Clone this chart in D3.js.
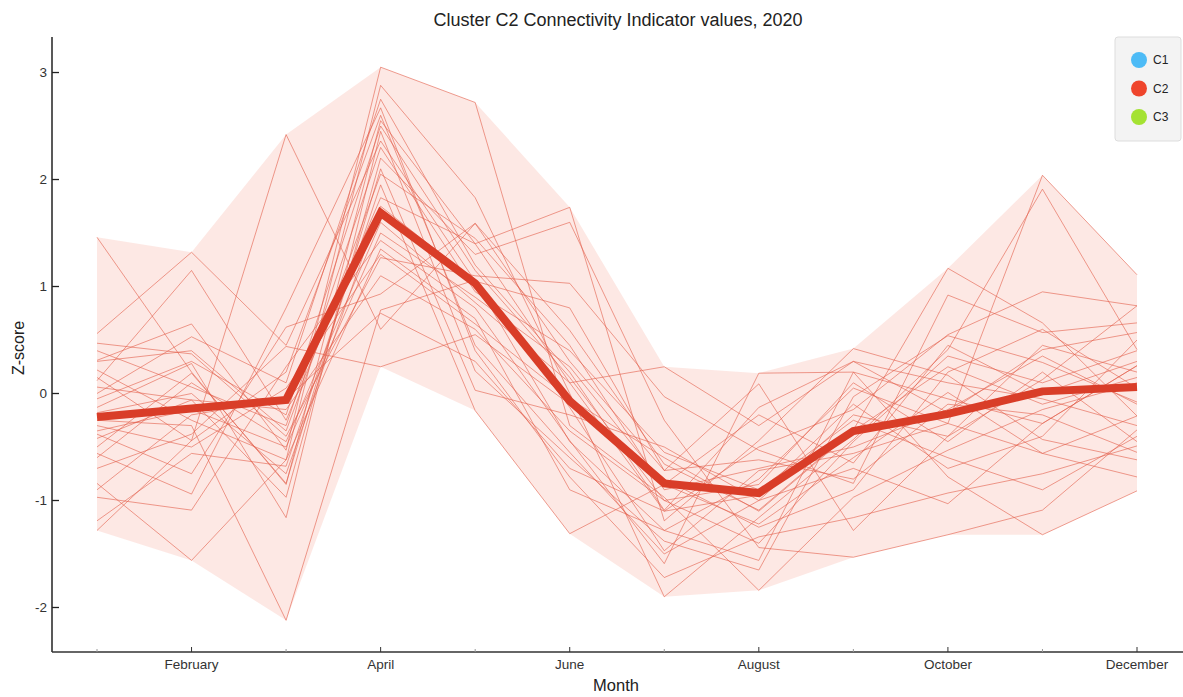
<!DOCTYPE html>
<html>
<head>
<meta charset="utf-8">
<script src="https://cdn.jsdelivr.net/npm/d3@7"></script>
<style>
  html, body { margin: 0; padding: 0; background: #fff; }
  svg { display: block; font-family: "Liberation Sans", Arial, sans-serif; }
</style>
</head>
<body>
<svg id="chart" width="1183" height="697"></svg>
<script>
// Months of 2020 (index 0 = January)
const months = ["January", "February", "March", "April", "May", "June",
  "July", "August", "September", "October", "November", "December"];
// Only every second month carries a label
const labelledMonths = ["February", "April", "June", "August", "October", "December"];
const yTicks = [-2, -1, 0, 1, 2, 3];

// Cluster C2 mean z-score per month
const clusterMean = [-0.22, -0.14, -0.06, 1.69, 1.03, -0.07, -0.84, -0.93, -0.35, -0.19, 0.02, 0.06];

// Individual member series of cluster C2 (z-scores, Jan..Dec)
const s01 = [1.46, 0.20, -0.85, 2.55, 1.40, 0.10, -1.10, -0.50, -0.15, 0.55, 0.95, 0.82];
const s02 = [0.56, 1.32, 0.45, 2.36, 1.05, -0.45, -1.28, -1.56, 0.20, -0.05, -0.28, 0.26];
const s03 = [-1.28, -0.44, 2.42, 0.60, 1.59, 0.59, -0.66, -1.09, -0.34, 1.17, 0.66, -0.21];
const s04 = [-0.25, -0.30, -2.12, 0.78, 1.06, -0.13, -1.47, -0.72, -0.56, -0.28, 2.04, 1.11];
const s05 = [0.31, 0.65, -0.53, 3.05, 2.72, -0.30, -0.97, -1.84, -0.97, -0.53, -0.15, 0.10];
const s06 = [-0.84, -1.56, -0.62, 2.88, 1.83, 0.00, -1.90, -1.16, -0.43, 0.41, 1.91, 0.41];
const s07 = [0.12, 1.15, -0.25, 1.83, 1.40, 1.74, -1.19, -0.44, 0.42, 0.17, -0.43, -0.62];
const s08 = [-0.56, -0.94, 0.80, 2.67, 0.40, -0.78, -1.72, -1.34, -1.16, -0.93, -0.75, -0.49];
const s09 = [0.06, -0.06, -0.97, 2.20, 1.30, 1.60, -0.25, -1.44, -1.53, -1.32, -1.09, -0.34];
const s10 = [-0.97, -1.09, 0.25, 1.43, 0.80, -0.44, -1.59, 0.19, 0.20, -0.78, -1.32, -0.91];
const s11 = [0.47, 0.37, -0.40, 1.27, 1.10, 1.03, -0.03, -0.53, -0.84, 0.92, 0.57, 0.66];
const s12 = [-0.13, 0.28, -1.16, 2.45, 0.21, -0.60, -1.38, -1.65, -0.03, 0.54, 0.29, -0.08];
const s13 = [-0.38, -0.75, 0.62, 0.93, 1.59, 0.30, -0.72, 0.09, -1.28, -0.40, 0.13, 0.82];
const s14 = [-1.19, -0.56, -0.68, 1.95, -0.16, -1.31, -0.85, -1.22, -0.60, 0.01, -0.56, -0.78];
const s15 = [0.00, 0.53, 0.10, 2.75, 1.20, 0.20, -1.09, -0.13, 0.30, -0.18, 0.41, 0.57];
const s16 = [-0.50, 0.19, -0.84, 2.10, 0.03, -0.20, -0.50, -1.00, -0.70, -1.03, -0.28, 0.26];
const s17 = [0.22, -0.25, -0.62, 1.35, 0.70, -0.90, -1.28, -0.80, 0.05, -0.28, -0.56, -0.21];
const s18 = [-0.70, -0.38, 0.44, 0.25, 0.55, -0.10, -0.80, -1.25, -0.90, 0.20, 0.60, 0.05];
const s19 = [0.40, 0.06, -0.30, 2.30, 0.95, 0.40, -0.55, -0.90, -0.25, -0.60, -0.90, -0.40];
const s20 = [-0.42, -0.06, -0.15, 1.10, 0.60, -0.35, -1.00, -1.40, -0.45, 0.35, 0.10, 0.40];
const s21 = [-0.18, 0.00, -0.75, 1.75, 1.05, 0.80, -0.72, -0.62, -0.80, -0.10, -0.20, -0.55];
const s22 = [0.15, -0.44, 0.20, 2.60, 0.45, -0.55, -1.50, -1.00, -0.20, -0.40, 0.45, 0.20];
const s23 = [-0.60, 0.10, -0.45, 1.60, 0.85, 0.10, 0.25, -0.30, 0.30, 0.10, -0.05, -0.30];
const s24 = [-0.90, -0.20, -0.05, 0.75, 0.30, -0.70, -1.10, -0.95, -0.10, -0.70, -0.40, 0.50];
const s25 = [0.30, 0.40, -0.35, 2.05, 1.45, 0.45, -0.90, -0.70, -0.50, -0.15, 0.35, -0.10];
const s26 = [-0.30, -0.50, 0.05, 1.30, 0.65, -0.05, -0.60, -1.10, -0.35, 0.25, -0.10, 0.15];
const s27 = [-0.05, 0.30, -0.20, 2.50, 1.15, 0.15, -1.00, -0.85, 0.10, -0.45, 0.20, -0.45];
const s28 = [-0.35, -0.15, -0.50, 1.50, 0.90, 0.25, -0.85, -0.20, -0.65, 0.45, 0.00, 0.30];

const members = [s01, s02, s03, s04, s05, s06, s07, s08, s09, s10, s11, s12, s13, s14,
  s15, s16, s17, s18, s19, s20, s21, s22, s23, s24, s25, s26, s27, s28];

const legendNames = ["C1", "C2", "C3"];
const legendColors = ["#4dbbf6", "#ef452c", "#a4e232"];

const svg = d3.select("#chart");
const plotLeft = 52, plotRight = 1183, plotTop = 37, plotBottom = 652;

const x = d3.scaleLinear().domain([0, 11]).range([97, 1137]);
const y = d3.scaleLinear().domain([-2.416, 3.332]).range([plotBottom, plotTop]);

// Envelope: min / max over the member series for each month
const envelope = months.map((m, i) => ({
  i,
  lo: d3.min(members, s => s[i]),
  hi: d3.max(members, s => s[i])
}));

const plot = svg.append("g");

plot.append("path")
  .datum(envelope)
  .attr("fill", "#fbd9d2")
  .attr("fill-opacity", 0.6)
  .attr("d", d3.area().x(d => x(d.i)).y0(d => y(d.lo)).y1(d => y(d.hi)));

const line = d3.line().x((d, i) => x(i)).y(d => y(d));

plot.selectAll("path.member")
  .data(members)
  .join("path")
  .attr("class", "member")
  .attr("fill", "none")
  .attr("stroke", "#e35e4a")
  .attr("stroke-opacity", 0.6)
  .attr("stroke-width", 1)
  .attr("d", line);

plot.append("path")
  .datum(clusterMean)
  .attr("fill", "none")
  .attr("stroke", "#d93d28")
  .attr("stroke-width", 8)
  .attr("stroke-linejoin", "miter")
  .attr("d", line);

// Axes
const axisColor = "#222";
const yAxis = svg.append("g");
yAxis.append("line")
  .attr("x1", plotLeft).attr("x2", plotLeft).attr("y1", plotTop).attr("y2", plotBottom)
  .attr("stroke", axisColor).attr("stroke-width", 1.5);
yAxis.selectAll("line.tick")
  .data(yTicks).join("line").attr("class", "tick")
  .attr("x1", plotLeft).attr("x2", plotLeft + 7)
  .attr("y1", d => y(d)).attr("y2", d => y(d))
  .attr("stroke", axisColor).attr("stroke-width", 1.3);
yAxis.selectAll("text")
  .data(yTicks).join("text")
  .attr("x", plotLeft - 5).attr("y", d => y(d))
  .attr("dy", "0.35em")
  .attr("text-anchor", "end")
  .attr("font-size", 13.5)
  .attr("fill", "#333")
  .text(d => d);

const xAxis = svg.append("g");
xAxis.append("line")
  .attr("x1", plotLeft).attr("x2", plotRight).attr("y1", plotBottom).attr("y2", plotBottom)
  .attr("stroke", "#333").attr("stroke-width", 1.5);
xAxis.selectAll("line.tick")
  .data(months).join("line").attr("class", "tick")
  .attr("x1", (d, i) => x(i)).attr("x2", (d, i) => x(i))
  .attr("y1", plotBottom)
  .attr("y2", d => labelledMonths.includes(d) ? plotBottom - 5 : plotBottom - 3)
  .attr("stroke", d => labelledMonths.includes(d) ? "#333" : "#999")
  .attr("stroke-width", 1);
xAxis.selectAll("text")
  .data(months.filter(d => labelledMonths.includes(d))).join("text")
  .attr("x", d => x(months.indexOf(d)))
  .attr("y", 669)
  .attr("text-anchor", "middle")
  .attr("font-size", 13.5)
  .attr("fill", "#333")
  .text(d => d);

svg.append("text")
  .attr("x", 616).attr("y", 691)
  .attr("text-anchor", "middle")
  .attr("font-size", 16.5)
  .attr("fill", "#222")
  .text("Month");

svg.append("text")
  .attr("transform", "translate(24,348) rotate(-90)")
  .attr("text-anchor", "middle")
  .attr("font-size", 16)
  .attr("fill", "#222")
  .text("Z-score");

svg.append("text")
  .attr("x", 618).attr("y", 26)
  .attr("text-anchor", "middle")
  .attr("font-size", 18)
  .attr("fill", "#222")
  .text("Cluster C2 Connectivity Indicator values, 2020");

// Legend
const legend = svg.append("g");
legend.append("rect")
  .attr("x", 1115).attr("y", 37).attr("width", 66).attr("height", 104)
  .attr("rx", 3)
  .attr("fill", "#f3f3f3").attr("stroke", "#ddd");
const items = legend.selectAll("g.item")
  .data(legendNames).join("g").attr("class", "item")
  .attr("transform", (d, i) => `translate(1139, ${60 + i * 28.5})`);
items.append("circle")
  .attr("r", 8)
  .attr("fill", (d, i) => legendColors[i]);
items.append("text")
  .attr("x", 14).attr("dy", "0.35em")
  .attr("font-size", 12)
  .attr("fill", "#222")
  .text(d => d);
</script>
</body>
</html>
